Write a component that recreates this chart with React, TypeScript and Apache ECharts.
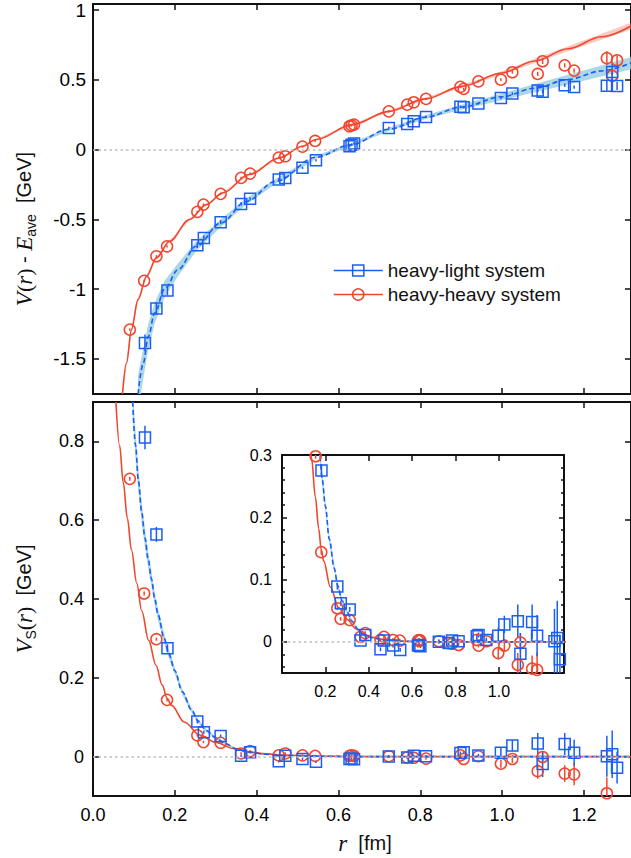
import React, { useEffect, useRef } from "react";
import * as echarts from "echarts";

// ---------- colours & fonts ----------
const BLUE = "#1a5ff2";
const RED = "#f2452e";
const BAND_BLUE = "rgba(150, 205, 225, 0.8)";
const BAND_RED = "rgba(245, 140, 120, 0.45)";
const FRAME = "#111";
const SANS = "Liberation Sans";
const SERIF = "Liberation Serif";

// ---------- axis ticks ----------
const xTicks = [0, 0.2, 0.4, 0.6, 0.8, 1.0, 1.2];
const topYTicks = [-1.5, -1, -0.5, 0, 0.5, 1];
const botYTicks = [0, 0.2, 0.4, 0.6, 0.8];
const insetXTicks = [0.2, 0.4, 0.6, 0.8, 1.0];
const insetYTicks = [0, 0.1, 0.2, 0.3];
const insetYMinor = [-0.04, -0.02, 0.02, 0.04, 0.06, 0.08, 0.12, 0.14, 0.16, 0.18, 0.22, 0.24, 0.26, 0.28];

// ---------- heavy-light data (squares) ----------
const hlR = [0.127, 0.155, 0.182, 0.255, 0.271, 0.312, 0.362, 0.384, 0.454, 0.47, 0.512, 0.545, 0.627, 0.632, 0.638, 0.723, 0.768, 0.784, 0.814, 0.898, 0.906, 0.942, 0.997, 1.025, 1.087, 1.099, 1.153, 1.176, 1.256, 1.269, 1.281];
const hlV = [-1.385, -1.139, -1.01, -0.685, -0.633, -0.52, -0.389, -0.353, -0.215, -0.203, -0.131, -0.077, 0.024, 0.035, 0.043, 0.155, 0.184, 0.203, 0.234, 0.306, 0.303, 0.33, 0.37, 0.401, 0.423, 0.415, 0.461, 0.448, 0.457, 0.556, 0.456];
const hlVErr = [0.06, 0.045, 0.035, 0.02, 0.02, 0.015, 0.012, 0.012, 0.01, 0.01, 0.008, 0.008, 0.008, 0.008, 0.008, 0.008, 0.008, 0.008, 0.008, 0.008, 0.008, 0.008, 0.01, 0.01, 0.012, 0.012, 0.012, 0.012, 0.035, 0.06, 0.03];
const hlVs = [0.81, 0.564, 0.275, 0.089, 0.062, 0.052, 0.002, 0.011, -0.012, 0.002, -0.006, -0.013, -0.006, -0.005, -0.007, 0.0, -0.002, 0.002, 0.001, 0.009, 0.011, 0.003, 0.01, 0.028, 0.033, -0.019, 0.032, 0.01, 0.001, 0.006, -0.028];
const hlVsErr = [0.03, 0.019, 0.01, 0.005, 0.004, 0.004, 0.003, 0.003, 0.003, 0.003, 0.003, 0.003, 0.003, 0.003, 0.003, 0.003, 0.003, 0.003, 0.003, 0.004, 0.004, 0.004, 0.013, 0.014, 0.027, 0.033, 0.028, 0.033, 0.052, 0.06, 0.04];

// ---------- heavy-heavy data (circles) ----------
const hhR = [0.09, 0.125, 0.155, 0.181, 0.255, 0.27, 0.312, 0.362, 0.384, 0.454, 0.47, 0.512, 0.543, 0.627, 0.632, 0.638, 0.723, 0.768, 0.784, 0.814, 0.898, 0.906, 0.942, 0.997, 1.025, 1.087, 1.099, 1.153, 1.176, 1.256, 1.269, 1.281];
const hhV = [-1.29, -0.94, -0.764, -0.693, -0.446, -0.394, -0.317, -0.203, -0.172, -0.057, -0.048, 0.021, 0.062, 0.167, 0.173, 0.179, 0.274, 0.322, 0.339, 0.363, 0.449, 0.435, 0.489, 0.501, 0.554, 0.542, 0.633, 0.603, 0.566, 0.655, 0.528, 0.64];
const hhVErr = [0.008, 0.008, 0.008, 0.008, 0.008, 0.008, 0.008, 0.008, 0.008, 0.008, 0.008, 0.008, 0.008, 0.008, 0.008, 0.008, 0.008, 0.008, 0.008, 0.008, 0.008, 0.008, 0.008, 0.01, 0.01, 0.015, 0.02, 0.015, 0.015, 0.05, 0.05, 0.035];
const hhRs = [0.09, 0.125, 0.155, 0.181, 0.255, 0.27, 0.312, 0.362, 0.384, 0.454, 0.47, 0.512, 0.543, 0.627, 0.632, 0.638, 0.723, 0.768, 0.784, 0.814, 0.898, 0.906, 0.942, 0.997, 1.025, 1.087, 1.099, 1.153, 1.176, 1.256];
const hhVs = [0.705, 0.414, 0.298, 0.144, 0.054, 0.037, 0.035, 0.008, 0.014, 0.003, 0.008, 0.003, 0.002, 0.002, 0.003, 0.002, 0.001, -0.002, -0.003, -0.005, 0.003, -0.006, 0.001, -0.018, -0.006, -0.037, -0.001, -0.043, -0.045, -0.093];
const hhVsErr = [0.005, 0.005, 0.004, 0.004, 0.003, 0.003, 0.003, 0.003, 0.003, 0.003, 0.003, 0.003, 0.003, 0.003, 0.003, 0.003, 0.003, 0.003, 0.003, 0.003, 0.003, 0.003, 0.003, 0.01, 0.01, 0.019, 0.015, 0.021, 0.028, 0.04];

// ---------- fit curves ----------
const hlFitR = [0.11, 0.123, 0.135, 0.151, 0.175, 0.208, 0.252, 0.313, 0.374, 0.447, 0.545, 0.63, 0.723, 0.812, 0.902, 0.999, 1.08, 1.161, 1.243, 1.315];
const hlFitV = [-1.751, -1.53, -1.34, -1.17, -1.0, -0.86, -0.693, -0.525, -0.372, -0.227, -0.055, 0.034, 0.146, 0.232, 0.305, 0.378, 0.44, 0.502, 0.563, 0.62];
const hlFitBand = [0.13, 0.11, 0.09, 0.075, 0.06, 0.045, 0.035, 0.028, 0.022, 0.018, 0.013, 0.012, 0.012, 0.014, 0.018, 0.024, 0.03, 0.035, 0.04, 0.044];

const hhFitR = [0.072, 0.082, 0.094, 0.11, 0.131, 0.155, 0.187, 0.236, 0.277, 0.317, 0.382, 0.455, 0.512, 0.545, 0.634, 0.723, 0.812, 0.902, 0.999, 1.08, 1.161, 1.243, 1.315];
const hhFitV = [-1.751, -1.528, -1.29, -1.075, -0.907, -0.776, -0.657, -0.501, -0.394, -0.31, -0.179, -0.06, 0.024, 0.072, 0.179, 0.274, 0.363, 0.453, 0.549, 0.635, 0.722, 0.808, 0.885];
const hhFitBand = [0.03, 0.025, 0.02, 0.015, 0.01, 0.008, 0.006, 0.005, 0.005, 0.005, 0.005, 0.005, 0.005, 0.005, 0.006, 0.007, 0.008, 0.01, 0.012, 0.015, 0.018, 0.021, 0.024];

const hlFitSR = [0.097, 0.104, 0.111, 0.119, 0.127, 0.135, 0.143, 0.151, 0.159, 0.174, 0.185, 0.2, 0.218, 0.241, 0.257, 0.277, 0.3, 0.323, 0.35, 0.377, 0.42, 0.469, 0.55, 0.65, 1.315];
const hlFitS = [0.9, 0.79, 0.7, 0.62, 0.555, 0.5, 0.45, 0.4, 0.36, 0.3, 0.262, 0.218, 0.165, 0.118, 0.09, 0.066, 0.048, 0.033, 0.02, 0.012, 0.006, 0.003, 0.001, 0.0, 0.0];
const hlFitSBand = [0.04, 0.035, 0.03, 0.027, 0.024, 0.021, 0.019, 0.017, 0.015, 0.013, 0.011, 0.009, 0.008, 0.006, 0.005, 0.004, 0.003, 0.003, 0.002, 0.002, 0.0015, 0.001, 0.001, 0.001, 0.001];

const hhFitSR = [0.056, 0.065, 0.074, 0.084, 0.094, 0.107, 0.119, 0.136, 0.154, 0.169, 0.181, 0.192, 0.223, 0.261, 0.3, 0.342, 0.377, 0.423, 0.469, 0.545, 0.65, 1.315];
const hhFitS = [0.9, 0.79, 0.695, 0.605, 0.525, 0.44, 0.37, 0.295, 0.232, 0.182, 0.148, 0.13, 0.088, 0.055, 0.036, 0.021, 0.012, 0.007, 0.004, 0.001, 0.0, 0.0];

// ---------- ranges ----------
const X_MAX = 1.315;
const TOP_MIN = -1.751;
const TOP_MAX = 1.043;
const BOT_MIN = -0.1;
const BOT_MAX = 0.9;
const IN_X_MAX = 1.3;
const IN_MIN = -0.05;
const IN_MAX = 0.3;

const zip = (a: number[], b: number[]) => a.map((v, i) => [v, b[i]]);
const zip3 = (a: number[], b: number[], c: number[]) => a.map((v, i) => [v, b[i], c[i]]);

function xAxis(gridIndex: number, position: string, max: number, ticks: number[], labels: number[] | null, fontSize: number) {
  return {
    type: "value",
    gridIndex,
    position,
    min: 0,
    max,
    axisLine: { show: true, onZero: false, lineStyle: { color: FRAME, width: 2 } },
    axisTick: { show: true, inside: true, length: 6, customValues: ticks, lineStyle: { color: FRAME, width: 1.5 } },
    axisLabel: labels
      ? { show: true, customValues: labels, formatter: (v: number) => v.toFixed(1), fontFamily: SANS, fontSize, color: "#000", margin: 10 }
      : { show: false },
    splitLine: { show: false },
  };
}

function yAxis(gridIndex: number, position: string, min: number, max: number, ticks: number[], labels: number[] | null, fontSize: number, tickLen = 6, line = true, margin = 9) {
  return {
    type: "value",
    gridIndex,
    position,
    min,
    max,
    axisLine: { show: line, onZero: false, lineStyle: { color: FRAME, width: 2 } },
    axisTick: { show: true, inside: true, length: tickLen, customValues: ticks, lineStyle: { color: FRAME, width: 1.5 } },
    axisLabel: labels
      ? { show: true, customValues: labels, formatter: (v: number) => String(v), fontFamily: SANS, fontSize, color: "#000", margin }
      : { show: false },
    splitLine: { show: false },
  };
}

function bandSeries(xi: number, yi: number, r: number[], v: number[], w: number[], fill: string) {
  return {
    type: "custom",
    xAxisIndex: xi,
    yAxisIndex: yi,
    z: 1,
    clip: true,
    silent: true,
    data: zip3(r, v, w),
    encode: { x: 0, y: 1 },
    renderItem: (params: any, api: any) => {
      if (params.dataIndex !== 0) return null;
      const upper = r.map((x, i) => api.coord([x, v[i] + w[i]]));
      const lower = r.map((x, i) => api.coord([x, v[i] - w[i]])).reverse();
      return { type: "polygon", shape: { points: upper.concat(lower) }, style: { fill, stroke: null } };
    },
  };
}

function curveSeries(xi: number, yi: number, r: number[], v: number[], color: string, dashed: boolean) {
  return {
    type: "line",
    xAxisIndex: xi,
    yAxisIndex: yi,
    z: 2,
    silent: true,
    data: zip(r, v),
    showSymbol: false,
    symbol: "none",
    smooth: 0.35,
    smoothMonotone: "x",
    lineStyle: { color, width: 1.6, type: dashed ? [5, 3] : "solid" },
  };
}

function errSeries(xi: number, yi: number, r: number[], v: number[], e: number[], color: string) {
  return {
    type: "custom",
    xAxisIndex: xi,
    yAxisIndex: yi,
    z: 3,
    clip: true,
    silent: true,
    data: zip3(r, v, e),
    encode: { x: 0, y: 1 },
    renderItem: (_params: any, api: any) => {
      const x = api.value(0);
      const y = api.value(1);
      const err = api.value(2);
      const p1 = api.coord([x, y - err]);
      const p2 = api.coord([x, y + err]);
      return { type: "line", shape: { x1: p1[0], y1: p1[1], x2: p2[0], y2: p2[1] }, style: { stroke: color, lineWidth: 1.5 } };
    },
  };
}

function markerSeries(xi: number, yi: number, r: number[], v: number[], color: string, symbol: string, size: number) {
  return {
    type: "scatter",
    xAxisIndex: xi,
    yAxisIndex: yi,
    z: 4,
    clip: true,
    silent: true,
    data: zip(r, v),
    symbol,
    symbolSize: size,
    itemStyle: { color: "rgba(255,255,255,0)", borderColor: color, borderWidth: 1.5, opacity: 1 },
  };
}

function zeroLine(xi: number, yi: number) {
  return {
    type: "line",
    xAxisIndex: xi,
    yAxisIndex: yi,
    z: 1,
    silent: true,
    data: [],
    markLine: {
      silent: true,
      symbol: ["none", "none"],
      label: { show: false },
      lineStyle: { color: "#bdbdbd", type: [2.5, 3], width: 1.5 },
      data: [{ yAxis: 0 }],
    },
  };
}

export default function App() {
  const ref = useRef<HTMLDivElement>(null);

  useEffect(() => {
    if (!ref.current) return;
    const chart = echarts.init(ref.current, null, { renderer: "svg" });

    const option: any = {
      animation: false,
      backgroundColor: "#fff",
      grid: [
        { left: 93, top: 4, width: 540, height: 390 },
        { left: 93, top: 402, width: 540, height: 394 },
        { left: 282, top: 455, width: 282, height: 218 },
      ],
      xAxis: [
        xAxis(0, "bottom", X_MAX, xTicks, null, 18),
        xAxis(0, "top", X_MAX, xTicks, null, 18),
        xAxis(1, "bottom", X_MAX, xTicks, xTicks, 18),
        xAxis(1, "top", X_MAX, xTicks, null, 18),
        xAxis(2, "bottom", IN_X_MAX, insetXTicks, insetXTicks, 16),
        xAxis(2, "top", IN_X_MAX, insetXTicks, null, 16),
      ],
      yAxis: [
        yAxis(0, "left", TOP_MIN, TOP_MAX, topYTicks, topYTicks, 19, 6, true, 7),
        yAxis(0, "right", TOP_MIN, TOP_MAX, topYTicks, null, 18),
        yAxis(1, "left", BOT_MIN, BOT_MAX, botYTicks, botYTicks, 18, 6, true, 9),
        yAxis(1, "right", BOT_MIN, BOT_MAX, botYTicks, null, 18),
        yAxis(2, "left", IN_MIN, IN_MAX, insetYTicks, insetYTicks, 16, 5, true, 10),
        yAxis(2, "right", IN_MIN, IN_MAX, insetYTicks, null, 16, 5),
        yAxis(2, "left", IN_MIN, IN_MAX, insetYMinor, null, 16, 3, false),
        yAxis(2, "right", IN_MIN, IN_MAX, insetYMinor, null, 16, 3, false),
      ],
      legend: {
        show: true,
        orient: "vertical",
        left: 328,
        top: 256,
        itemWidth: 49,
        itemHeight: 14,
        itemGap: 5,
        selectedMode: false,
        textStyle: { fontFamily: SANS, fontSize: 19, color: "#111" },
        data: [
          { name: "heavy-light system", itemStyle: { color: "rgba(255,255,255,0)", borderColor: BLUE, borderWidth: 1.5 }, lineStyle: { color: BLUE, width: 1.5, type: "solid" } },
          { name: "heavy-heavy system", itemStyle: { color: "rgba(255,255,255,0)", borderColor: RED, borderWidth: 1.5 }, lineStyle: { color: RED, width: 1.5, type: "solid" } },
        ],
      },
      graphic: [
        {
          type: "text",
          x: 24,
          y: 229,
          rotation: Math.PI / 2,
          silent: true,
          style: {
            text: "{i|V}{p|(}{i|r}{p|)}{n| - }{i|E}{s|ave}{n|  [GeV]}",
            align: "center",
            verticalAlign: "middle",
            fill: "#111",
            rich: {
              i: { fontFamily: SERIF, fontStyle: "italic", fontSize: 23, lineHeight: 27, fill: "#111" },
              p: { fontFamily: SERIF, fontSize: 22, lineHeight: 27, fill: "#111" },
              n: { fontFamily: SANS, fontSize: 20, lineHeight: 27, fill: "#111" },
              s: { fontFamily: SANS, fontSize: 14, lineHeight: 14, verticalAlign: "bottom", fill: "#111" },
            },
          },
        },
        {
          type: "text",
          x: 24,
          y: 599,
          rotation: Math.PI / 2,
          silent: true,
          style: {
            text: "{i|V}{s|S}{p|(}{i|r}{p|)}{n|  [GeV]}",
            align: "center",
            verticalAlign: "middle",
            fill: "#111",
            rich: {
              i: { fontFamily: SERIF, fontStyle: "italic", fontSize: 23, lineHeight: 27, fill: "#111" },
              p: { fontFamily: SERIF, fontSize: 22, lineHeight: 27, fill: "#111" },
              n: { fontFamily: SANS, fontSize: 20, lineHeight: 27, fill: "#111" },
              s: { fontFamily: SANS, fontSize: 14, lineHeight: 14, verticalAlign: "bottom", fill: "#111" },
            },
          },
        },
        {
          type: "text",
          x: 365,
          y: 843,
          silent: true,
          style: {
            text: "{i|r}{n|  [fm]}",
            align: "center",
            verticalAlign: "middle",
            fill: "#111",
            rich: {
              i: { fontFamily: SERIF, fontStyle: "italic", fontSize: 23, lineHeight: 26, fill: "#111" },
              n: { fontFamily: SANS, fontSize: 20, lineHeight: 26, fill: "#111" },
            },
          },
        },
      ],
      series: [
        // legend entries
        { name: "heavy-light system", type: "line", xAxisIndex: 0, yAxisIndex: 0, data: [], symbol: "rect", symbolSize: 11, itemStyle: { color: "rgba(255,255,255,0)", borderColor: BLUE, borderWidth: 1.5 }, lineStyle: { color: BLUE, width: 1.5 } },
        { name: "heavy-heavy system", type: "line", xAxisIndex: 0, yAxisIndex: 0, data: [], symbol: "circle", symbolSize: 11, itemStyle: { color: "rgba(255,255,255,0)", borderColor: RED, borderWidth: 1.5 }, lineStyle: { color: RED, width: 1.5 } },

        // top panel
        zeroLine(0, 0),
        bandSeries(0, 0, hlFitR, hlFitV, hlFitBand, BAND_BLUE),
        bandSeries(0, 0, hhFitR, hhFitV, hhFitBand, BAND_RED),
        curveSeries(0, 0, hhFitR, hhFitV, RED, false),
        curveSeries(0, 0, hlFitR, hlFitV, BLUE, true),
        errSeries(0, 0, hhR, hhV, hhVErr, RED),
        errSeries(0, 0, hlR, hlV, hlVErr, BLUE),
        markerSeries(0, 0, hhR, hhV, RED, "circle", 11),
        markerSeries(0, 0, hlR, hlV, BLUE, "rect", 11),

        // bottom panel
        zeroLine(2, 2),
        bandSeries(2, 2, hlFitSR, hlFitS, hlFitSBand, BAND_BLUE),
        curveSeries(2, 2, hhFitSR, hhFitS, RED, false),
        curveSeries(2, 2, hlFitSR, hlFitS, BLUE, true),
        errSeries(2, 2, hhRs, hhVs, hhVsErr, RED),
        errSeries(2, 2, hlR, hlVs, hlVsErr, BLUE),
        markerSeries(2, 2, hhRs, hhVs, RED, "circle", 11),
        markerSeries(2, 2, hlR, hlVs, BLUE, "rect", 11),

        // inset
        zeroLine(4, 4),
        bandSeries(4, 4, hlFitSR, hlFitS, hlFitSBand, BAND_BLUE),
        curveSeries(4, 4, hhFitSR, hhFitS, RED, false),
        curveSeries(4, 4, hlFitSR, hlFitS, BLUE, true),
        errSeries(4, 4, hhRs, hhVs, hhVsErr, RED),
        errSeries(4, 4, hlR, hlVs, hlVsErr, BLUE),
        markerSeries(4, 4, hhRs, hhVs, RED, "circle", 11),
        markerSeries(4, 4, hlR, hlVs, BLUE, "rect", 11),
      ],
    };

    chart.setOption(option);
    return () => chart.dispose();
  }, []);

  return <div ref={ref} style={{ position: "fixed", left: 0, top: 0, width: 631, height: 858, background: "#fff" }} />;
}
